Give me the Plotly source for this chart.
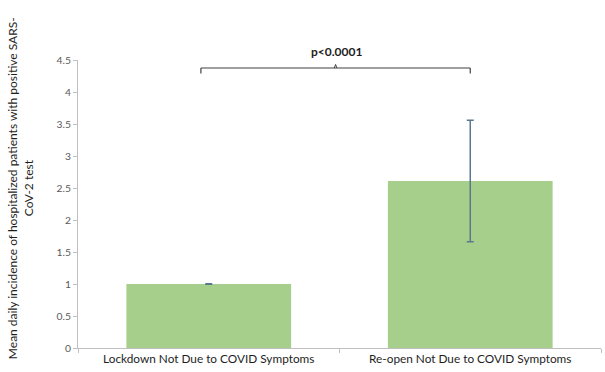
import plotly.graph_objects as go

categories = ["Lockdown Not Due to COVID Symptoms", "Re-open Not Due to COVID Symptoms"]
means = [1.0, 2.61]
errors = [0.005, 0.95]
y_ticks = [0, 0.5, 1, 1.5, 2, 2.5, 3, 3.5, 4, 4.5]
y_tick_labels = ["0", "0.5", "1", "1.5", "2", "2.5", "3", "3.5", "4", "4.5"]
p_label = "p<0.0001"
y_title_lines = ["Mean daily incidence of hospitalized patients with positive SARS-", "CoV-2 test"]

fig = go.Figure()
fig.add_trace(go.Bar(
    x=categories, y=means,
    marker=dict(color="#a6cf8c", line=dict(width=0)),
    width=0.63,
    error_y=dict(type="data", array=errors, visible=True,
                 color="#5a7890", thickness=1.5, width=3.5),
))

font = "Lato, Carlito, 'Open Sans', sans-serif"

fig.update_layout(
    width=605, height=372,
    margin=dict(l=78, r=4, t=60, b=24),
    plot_bgcolor="white", paper_bgcolor="white",
    showlegend=False,
    bargap=0.37,
    font=dict(family=font),
    xaxis=dict(
        type="category", range=[-0.5, 1.5],
        showline=True, linecolor="#c0c0c0", linewidth=1,
        ticks="outside", tickson="boundaries", ticklen=4, tickcolor="#c0c0c0",
        tickfont=dict(family=font, size=11.8, color="#1e1e1e"),
        showgrid=False, zeroline=False,
    ),
    yaxis=dict(
        range=[0, 4.5],
        tickvals=y_ticks, ticktext=y_tick_labels,
        showline=True, linecolor="#c0c0c0", linewidth=1,
        ticks="outside", ticklen=4, tickcolor="#c0c0c0",
        tickfont=dict(family=font, size=10.3, color="#595959"),
        showgrid=False, zeroline=False,
    ),
)

# y axis title, two centred lines
fig.add_annotation(xref="paper", yref="paper", x=(12 - 78) / 523, y=0.555,
                   xanchor="center", yanchor="middle", textangle=-90,
                   text=y_title_lines[0], showarrow=False,
                   font=dict(family=font, size=12, color="#1e1e1e"))
fig.add_annotation(xref="paper", yref="paper", x=(28 - 78) / 523, y=0.555,
                   xanchor="center", yanchor="middle", textangle=-90,
                   text=y_title_lines[1], showarrow=False,
                   font=dict(family=font, size=12, color="#1e1e1e"))

# significance bracket
bc = "#404040"
fig.add_shape(type="line", xref="x", yref="y", x0=-0.03, x1=1.0, y0=4.375, y1=4.375,
              line=dict(color=bc, width=1.2))
fig.add_shape(type="line", xref="x", yref="y", x0=-0.03, x1=-0.03, y0=4.375, y1=4.29,
              line=dict(color=bc, width=1.2))
fig.add_shape(type="line", xref="x", yref="y", x0=1.0, x1=1.0, y0=4.375, y1=4.29,
              line=dict(color=bc, width=1.2))
fig.add_shape(type="line", xref="x", yref="y", x0=0.48, x1=0.485, y0=4.375, y1=4.43,
              line=dict(color=bc, width=1))
fig.add_shape(type="line", xref="x", yref="y", x0=0.485, x1=0.49, y0=4.43, y1=4.375,
              line=dict(color=bc, width=1))
fig.add_annotation(xref="x", yref="y", x=0.49, y=4.48, yanchor="bottom",
                   text="<b>" + p_label + "</b>", showarrow=False,
                   font=dict(family=font, size=12, color="#1e1e1e"))

fig.write_html("out.html", config={"displayModeBar": False},
               post_script="document.body.style.margin='0px';")
